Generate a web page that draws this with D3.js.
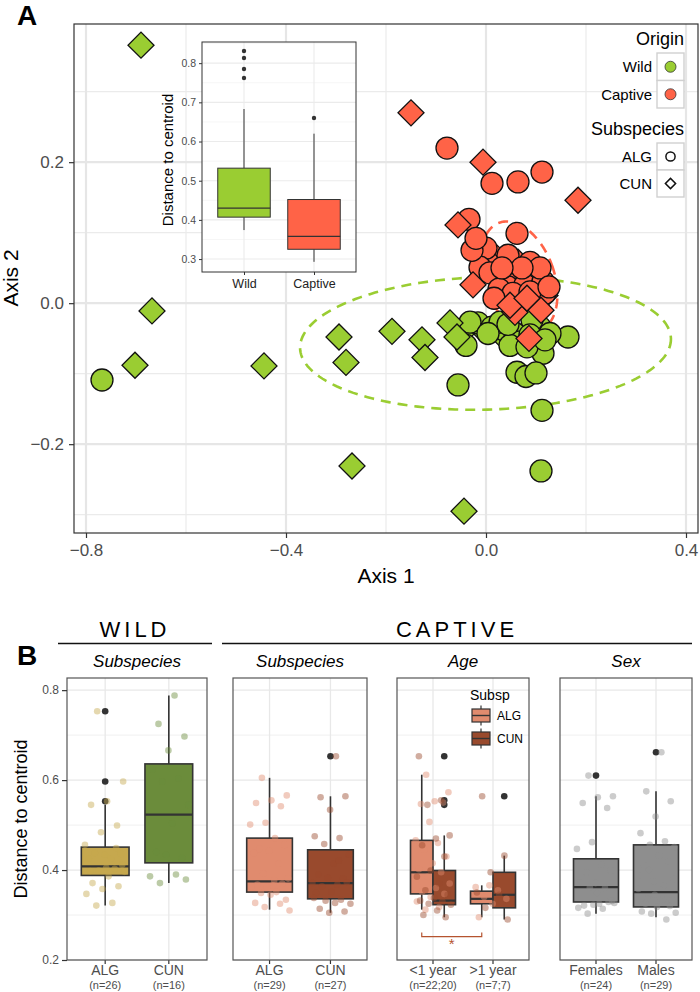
<!DOCTYPE html>
<html>
<head>
<meta charset="utf-8">
<script src="https://cdn.jsdelivr.net/npm/d3@7"></script>
<style>
  body { margin: 0; background: #fff; }
  svg text { font-family: "Liberation Sans", Arial, sans-serif; }
</style>
</head>
<body>
<div id="chart"></div>
<script>
// ---------- Panel A: ordination (Axis 1, Axis 2) ----------
const axis1Ticks = [-0.8, -0.4, 0, 0.4];
const axis2Ticks = [-0.2, 0, 0.2];

const wildALG = [[-0.768,-0.109],[-0.056,-0.116],[0.112,-0.152],[0.110,-0.238],[0.164,-0.048],
  [0.114,-0.071],[0.062,-0.098],[0.080,-0.104],[0.100,-0.099],[-0.040,-0.060],[-0.016,-0.028],
  [0.012,-0.034],[0.036,-0.038],[0.058,-0.043],[0.068,-0.055],[0.108,-0.034],[0.128,-0.043],
  [0.092,-0.024],[0.028,-0.027],[-0.032,-0.027],[0.048,-0.060],[0.082,-0.062],[0.004,-0.043],
  [0.088,-0.045],[0.118,-0.052],[0.044,-0.030]];
// last three sit inside the wild cluster
const wildCUN = [[-0.690,0.366],[-0.668,-0.011],[-0.702,-0.088],[-0.444,-0.089],[-0.294,-0.048],
  [-0.280,-0.084],[-0.188,-0.040],[-0.128,-0.052],[-0.122,-0.077],[-0.072,-0.028],[-0.058,-0.048],
  [-0.268,-0.231],[-0.044,-0.295],[-0.046,-0.041],[-0.012,-0.034],[0.038,-0.050]];
const captiveALG = [[-0.078,0.220],[0.012,0.170],[0.064,0.172],[0.112,0.186],[-0.034,0.119],
  [0.062,0.099],[-0.016,0.078],[0.000,0.078],[0.044,0.068],[-0.012,0.051],[0.008,0.043],
  [0.094,0.044],[0.062,0.035],[0.044,0.023],[0.078,0.026],[0.102,0.018],[0.114,0.031],
  [-0.028,0.075],[-0.020,0.092],[0.026,0.020],[0.088,0.058],[0.108,0.050],[0.072,0.050],
  [0.032,0.050],[0.054,0.014],[0.118,0.014],[0.016,0.007],[0.088,0.016],[0.126,0.023]];
// first nine are the visible ones, the rest hide inside the captive cluster
const captiveCUN = [[-0.150,0.270],[-0.006,0.200],[0.184,0.146],[-0.056,0.111],[-0.026,0.026],
  [0.048,-0.003],[0.082,0.007],[0.110,-0.010],[0.086,-0.050],
  [0.058,0.033],[0.088,0.026],[0.072,0.016],[0.098,0.040],[0.038,0.047],[0.064,0.058],
  [0.022,0.064],[0.108,0.018],[0.052,0.011],[0.078,0.047],[0.028,0.033],[0.104,0.004],
  [0.068,-0.003],[0.008,0.058],[0.044,0.021],[0.084,0.033],[0.118,0.011],[0.058,-0.013]];

const ellipseWild = { cx: -0.001, cy: -0.057, rx: 0.371, ry: 0.094, angle: -1.5 };
const ellipseCaptive = { cx: 0.066, cy: 0.037, rx: 0.070, ry: 0.082, angle: -20 };

// inset: distance to centroid by origin  [lower whisker, Q1, median, Q3, upper whisker]
const insetGroups = ["Wild", "Captive"];
const insetStats = [[0.374, 0.407, 0.430, 0.532, 0.683], [0.293, 0.325, 0.358, 0.452, 0.620]];
const insetOutliers = [[0.762, 0.785, 0.813, 0.831], [0.660]];
const insetTicks = [0.3, 0.4, 0.5, 0.6, 0.7, 0.8];

// ---------- Panel B: distance to centroid ----------
const distTicks = [0.2, 0.4, 0.6, 0.8];

const wildCats = ["ALG", "CUN"];
const wildN = ["(n=26)", "(n=16)"];
const wildStats = [[0.321, 0.388, 0.408, 0.451, 0.545], [0.371, 0.416, 0.523, 0.636, 0.788]];
const wildOut = [[0.553, 0.597, 0.753], []];
const wildPts = [
  [0.753,0.597,0.553,0.545,0.499,0.484,0.456,0.425,0.438,0.436,0.434,0.425,0.403,0.399,0.396,
   0.386,0.371,0.364,0.358,0.347,0.327,0.321,0.412,0.405,0.398,0.449],
  [0.788,0.725,0.697,0.666,0.623,0.603,0.597,0.545,0.504,0.440,0.427,0.434,0.386,0.390,0.371,0.379]];

const capCats = ["ALG", "CUN"];
const capN = ["(n=29)", "(n=27)"];
const capStats = [[0.312, 0.351, 0.375, 0.471, 0.605], [0.305, 0.336, 0.371, 0.445, 0.564]];
const capOut = [[], [0.653]];
const capPts = [
  [0.605,0.566,0.555,0.549,0.542,0.505,0.501,0.471,0.447,0.456,0.443,0.438,0.414,0.392,0.381,
   0.366,0.368,0.370,0.362,0.364,0.351,0.349,0.334,0.345,0.327,0.325,0.318,0.310,0.377],
  [0.653,0.562,0.564,0.534,0.475,0.471,0.458,0.434,0.414,0.390,0.381,0.383,0.371,0.368,0.364,
   0.373,0.351,0.349,0.334,0.332,0.325,0.327,0.314,0.308,0.305,0.338,0.421]];

const ageCats = ["<1 year", ">1 year"];
const ageN = ["(n=22;20)", "(n=7;7)"];
const ageSubsp = ["ALG", "CUN"];
const ageALGStats = [[0.312, 0.347, 0.395, 0.466, 0.612], [0.295, 0.325, 0.336, 0.353, 0.366]];
const ageCUNStats = [[0.295, 0.323, 0.332, 0.399, 0.477], [0.290, 0.316, 0.345, 0.395, 0.432]];
const ageALGOut = [[], []];
const ageCUNOut = [[0.545, 0.555, 0.653], [0.564]];
const ageALGPts = [
  [0.612,0.573,0.553,0.547,0.550,0.507,0.466,0.460,0.445,0.430,0.415,0.402,0.395,0.385,0.370,
   0.360,0.352,0.347,0.340,0.330,0.318,0.312],
  [0.366,0.362,0.355,0.340,0.336,0.325,0.295]];
const ageCUNPts = [
  [0.653,0.555,0.545,0.477,0.470,0.455,0.430,0.399,0.385,0.370,0.355,0.345,0.338,0.332,0.330,
   0.325,0.323,0.310,0.300,0.295],
  [0.564,0.432,0.395,0.350,0.345,0.316,0.290]];
const ageSignif = { from: 0, to: 1, subsp: 0, y: 0.252, label: "*" };

const sexCats = ["Females", "Males"];
const sexN = ["(n=24)", "(n=29)"];
const sexStats = [[0.303, 0.329, 0.362, 0.425, 0.564], [0.295, 0.318, 0.351, 0.456, 0.575]];
const sexOut = [[0.610], [0.662]];
const sexPts = [
  [0.610,0.564,0.562,0.549,0.538,0.462,0.447,0.412,0.395,0.399,0.371,0.373,0.360,0.362,0.327,
   0.325,0.321,0.329,0.323,0.316,0.314,0.303,0.331,0.349],
  [0.662,0.575,0.553,0.519,0.482,0.464,0.456,0.451,0.432,0.410,0.419,0.375,0.358,0.334,0.336,
   0.332,0.318,0.308,0.290,0.303,0.305,0.330,0.325,0.320,0.345,0.388,0.366,0.400,0.380]];

// ---------- drawing ----------
const GREEN = "#9ACD32", RED = "#FF6347";
const svg = d3.select('#chart').append('svg').attr('width', 700).attr('height', 992);

// deterministic jitter in [-1, 1]
const jit = i => ((i * 0.6180339887 + 0.31) % 1) * 2 - 1;

function boxplot(g, y, cx, w, s, fill, sw) {
  const [lo, q1, med, q3, hi] = s;
  g.append('line').attr('x1', cx).attr('x2', cx).attr('y1', y(hi)).attr('y2', y(q3))
    .attr('stroke', '#333').attr('stroke-width', sw);
  g.append('line').attr('x1', cx).attr('x2', cx).attr('y1', y(q1)).attr('y2', y(lo))
    .attr('stroke', '#333').attr('stroke-width', sw);
  g.append('rect').attr('x', cx - w / 2).attr('y', y(q3)).attr('width', w).attr('height', y(q1) - y(q3))
    .attr('fill', fill).attr('stroke', '#333').attr('stroke-width', sw);
  g.append('line').attr('x1', cx - w / 2).attr('x2', cx + w / 2).attr('y1', y(med)).attr('y2', y(med))
    .attr('stroke', '#333').attr('stroke-width', sw * 1.4);
}

// ===== Panel A =====
const xA = d3.scaleLinear().domain([-0.824, 0.424]).range([74, 698]);
const yA = d3.scaleLinear().domain([-0.326, 0.396]).range([533, 24]);
const gA = svg.append('g');

const minorX = axis1Ticks.slice(1).map((d, i) => (d + axis1Ticks[i]) / 2);
const minorY = [-0.3, -0.1, 0.1, 0.3];
minorX.forEach(v => gA.append('line').attr('x1', xA(v)).attr('x2', xA(v)).attr('y1', 24).attr('y2', 533)
  .attr('stroke', '#ebebeb').attr('stroke-width', 1.2));
minorY.forEach(v => gA.append('line').attr('y1', yA(v)).attr('y2', yA(v)).attr('x1', 74).attr('x2', 698)
  .attr('stroke', '#ebebeb').attr('stroke-width', 1.2));
axis1Ticks.forEach(v => gA.append('line').attr('x1', xA(v)).attr('x2', xA(v)).attr('y1', 24).attr('y2', 533)
  .attr('stroke', '#e6e6e6').attr('stroke-width', 2.2));
axis2Ticks.forEach(v => gA.append('line').attr('y1', yA(v)).attr('y2', yA(v)).attr('x1', 74).attr('x2', 698)
  .attr('stroke', '#e6e6e6').attr('stroke-width', 2.2));

// ellipses (under the points)
function ellipsePath(e) {
  const cx = xA(e.cx), cy = yA(e.cy);
  const a = xA(e.cx + e.rx) - cx, b = yA(e.cy) - yA(e.cy + e.ry);
  const th = e.angle * Math.PI / 180;
  const pts = d3.range(0, 362, 2).map(t => {
    const r = t * Math.PI / 180, ex = a * Math.cos(r), ey = b * Math.sin(r);
    return [cx + ex * Math.cos(th) - ey * Math.sin(th), cy + ex * Math.sin(th) + ey * Math.cos(th)];
  });
  return d3.line()(pts);
}
gA.append('path').attr('d', ellipsePath(ellipseWild)).attr('fill', 'none')
  .attr('stroke', GREEN).attr('stroke-width', 2.6).attr('stroke-dasharray', '10,7');
gA.append('path').attr('d', ellipsePath(ellipseCaptive)).attr('fill', 'none')
  .attr('stroke', RED).attr('stroke-width', 2.6).attr('stroke-dasharray', '10,7');

const diamond = d3.symbol(d3.symbolSquare, 338)();
function drawCircles(data, fill) {
  gA.append('g').selectAll('circle').data(data).join('circle')
    .attr('cx', d => xA(d[0])).attr('cy', d => yA(d[1])).attr('r', 11)
    .attr('fill', fill).attr('stroke', '#111').attr('stroke-width', 1.3);
}
function drawDiamonds(data, fill) {
  gA.append('g').selectAll('path').data(data).join('path')
    .attr('d', diamond)
    .attr('transform', d => `translate(${xA(d[0])},${yA(d[1])}) rotate(45)`)
    .attr('fill', fill).attr('stroke', '#111').attr('stroke-width', 1.3);
}
drawDiamonds(wildCUN.slice(13), GREEN);
drawCircles(wildALG, GREEN);
drawDiamonds(wildCUN.slice(0, 13), GREEN);
drawDiamonds(captiveCUN.slice(9), RED);
drawCircles(captiveALG, RED);
drawDiamonds(captiveCUN.slice(0, 9), RED);

gA.append('rect').attr('x', 74).attr('y', 24).attr('width', 624).attr('height', 509)
  .attr('fill', 'none').attr('stroke', '#333').attr('stroke-width', 1.2);

const axAy = gA.append('g').attr('transform', 'translate(74,0)')
  .call(d3.axisLeft(yA).tickValues(axis2Ticks).tickSize(5).tickPadding(5).tickFormat(d3.format('.1f')));
const axAx = gA.append('g').attr('transform', 'translate(0,533)')
  .call(d3.axisBottom(xA).tickValues(axis1Ticks).tickSize(5).tickPadding(6).tickFormat(d3.format('.1f')));
[axAy, axAx].forEach(ax => {
  ax.select('.domain').remove();
  ax.selectAll('line').attr('stroke', '#333').attr('stroke-width', 1.2);
  ax.selectAll('text').attr('font-size', 17).attr('fill', '#4d4d4d')
    .attr('font-family', '"Liberation Sans", Arial, sans-serif');
});

svg.append('text').attr('x', 386).attr('y', 583).attr('text-anchor', 'middle')
  .attr('font-size', 21).text('Axis 1');
svg.append('text').attr('transform', 'translate(18,278) rotate(-90)').attr('text-anchor', 'middle')
  .attr('font-size', 21).text('Axis 2');
svg.append('text').attr('x', 17).attr('y', 25).attr('font-size', 28).attr('font-weight', 'bold').text('A');

// legend A
const lg = svg.append('g');
lg.append('text').attr('x', 684).attr('y', 45).attr('text-anchor', 'end').attr('font-size', 18).text('Origin');
[['Wild', GREEN], ['Captive', RED]].forEach(([lab, col], i) => {
  const y0 = 53 + i * 27.5;
  lg.append('rect').attr('x', 657).attr('y', y0).attr('width', 27).attr('height', 27.5)
    .attr('fill', '#fff').attr('stroke', '#d0d0d0').attr('stroke-width', 1.4);
  lg.append('circle').attr('cx', 670.5).attr('cy', y0 + 13.75).attr('r', 5.5)
    .attr('fill', col).attr('stroke', '#333').attr('stroke-width', 0.8);
  lg.append('text').attr('x', 652).attr('y', y0 + 19).attr('text-anchor', 'end').attr('font-size', 15).text(lab);
});
lg.append('text').attr('x', 684).attr('y', 135).attr('text-anchor', 'end').attr('font-size', 18).text('Subspecies');
['ALG', 'CUN'].forEach((lab, i) => {
  const y0 = 143 + i * 27;
  lg.append('rect').attr('x', 657).attr('y', y0).attr('width', 27).attr('height', 27)
    .attr('fill', '#fff').attr('stroke', '#d0d0d0').attr('stroke-width', 1.4);
  if (i === 0) {
    lg.append('circle').attr('cx', 670.5).attr('cy', y0 + 13.5).attr('r', 4.6)
      .attr('fill', 'none').attr('stroke', '#111').attr('stroke-width', 1.5);
  } else {
    lg.append('path').attr('d', d3.symbol(d3.symbolSquare, 52)())
      .attr('transform', `translate(670.5,${y0 + 13.5}) rotate(45)`)
      .attr('fill', 'none').attr('stroke', '#111').attr('stroke-width', 1.5);
  }
  lg.append('text').attr('x', 652).attr('y', y0 + 19).attr('text-anchor', 'end').attr('font-size', 15).text(lab);
});

// inset
const xI = d3.scalePoint().domain(insetGroups).range([202, 356]).padding(0.6);
const yI = d3.scaleLinear().domain([0.267, 0.854]).range([272, 42]);
const gI = svg.append('g');
gI.append('rect').attr('x', 202).attr('y', 42).attr('width', 154).attr('height', 230).attr('fill', '#fff');
insetTicks.forEach(v => {
  gI.append('line').attr('x1', 202).attr('x2', 356).attr('y1', yI(v)).attr('y2', yI(v))
    .attr('stroke', '#ebebeb').attr('stroke-width', 1.1);
  gI.append('line').attr('x1', 202).attr('x2', 356).attr('y1', yI(v + 0.05)).attr('y2', yI(v + 0.05))
    .attr('stroke', '#f2f2f2').attr('stroke-width', 0.7);
});
insetGroups.forEach(g => gI.append('line').attr('x1', xI(g)).attr('x2', xI(g)).attr('y1', 42).attr('y2', 272)
  .attr('stroke', '#ebebeb').attr('stroke-width', 1.1));
insetGroups.forEach((g, i) => {
  boxplot(gI, yI, xI(g), 0.75 * xI.step(), insetStats[i], i === 0 ? GREEN : RED, 1);
  insetOutliers[i].forEach(v => gI.append('circle').attr('cx', xI(g)).attr('cy', yI(v)).attr('r', 2.2).attr('fill', '#333'));
});
gI.append('rect').attr('x', 202).attr('y', 42).attr('width', 154).attr('height', 230)
  .attr('fill', 'none').attr('stroke', '#333').attr('stroke-width', 1);
const axIy = gI.append('g').attr('transform', 'translate(202,0)')
  .call(d3.axisLeft(yI).tickValues(insetTicks).tickSize(3).tickPadding(3).tickFormat(d3.format('.1f')));
const axIx = gI.append('g').attr('transform', 'translate(0,272)')
  .call(d3.axisBottom(xI).tickSize(3).tickPadding(4));
[axIy, axIx].forEach(ax => {
  ax.select('.domain').remove();
  ax.selectAll('line').attr('stroke', '#333');
  ax.selectAll('text').attr('font-family', '"DejaVu Sans", sans-serif').attr('fill', '#4d4d4d');
});
axIy.selectAll('text').attr('font-size', 10.5);
axIx.selectAll('text').attr('font-size', 12.5).attr('fill', '#222');
gI.append('text').attr('transform', 'translate(173,160) rotate(-90)').attr('text-anchor', 'middle')
  .attr('font-family', '"DejaVu Sans", sans-serif').attr('font-size', 15).text('Distance to centroid');

// ===== Panel B =====
const yB = d3.scaleLinear().domain([0.2, 0.827]).range([960, 678]);
const B_TOP = 678, B_BOT = 960;
const gB = svg.append('g');

svg.append('text').attr('x', 17).attr('y', 665).attr('font-size', 28).attr('font-weight', 'bold').text('B');
const serif = '"Liberation Serif", "DejaVu Serif", serif';
[['WILD', 58, 212], ['CAPTIVE', 222, 692]].forEach(([lab, a, b]) => {
  gB.append('text').attr('x', (a + b) / 2).attr('y', 637).attr('text-anchor', 'middle')
    .attr('font-family', serif).attr('font-size', 22).attr('letter-spacing', 4).text(lab);
  gB.append('line').attr('x1', a).attr('x2', b).attr('y1', 643.5).attr('y2', 643.5)
    .attr('stroke', '#111').attr('stroke-width', 1.3);
});

const panels = [
  { x0: 67, x1: 207, title: 'Subspecies', cats: wildCats, ns: wildN },
  { x0: 233, x1: 367, title: 'Subspecies', cats: capCats, ns: capN },
  { x0: 397, x1: 529, title: 'Age', cats: ageCats, ns: ageN },
  { x0: 560, x1: 692, title: 'Sex', cats: sexCats, ns: sexN }
];
panels.forEach(p => {
  p.x = d3.scalePoint().domain(p.cats).range([p.x0, p.x1]).padding(0.6);
  const g = gB.append('g');
  p.g = g;
  [0.3, 0.5, 0.7].forEach(v => g.append('line').attr('x1', p.x0).attr('x2', p.x1).attr('y1', yB(v)).attr('y2', yB(v))
    .attr('stroke', '#f0f0f0').attr('stroke-width', 1));
  distTicks.forEach(v => g.append('line').attr('x1', p.x0).attr('x2', p.x1).attr('y1', yB(v)).attr('y2', yB(v))
    .attr('stroke', '#e8e8e8').attr('stroke-width', 1.3));
  p.cats.forEach(c => g.append('line').attr('x1', p.x(c)).attr('x2', p.x(c)).attr('y1', B_TOP).attr('y2', B_BOT)
    .attr('stroke', '#e8e8e8').attr('stroke-width', 1.3));
  gB.append('text').attr('x', (p.x0 + p.x1) / 2).attr('y', 667).attr('text-anchor', 'middle')
    .attr('font-size', 17).attr('font-style', 'italic').text(p.title);
  p.cats.forEach((c, i) => {
    gB.append('line').attr('x1', p.x(c)).attr('x2', p.x(c)).attr('y1', B_BOT).attr('y2', B_BOT + 4)
      .attr('stroke', '#333').attr('stroke-width', 1.2);
    gB.append('text').attr('x', p.x(c)).attr('y', 975).attr('text-anchor', 'middle')
      .attr('font-size', 14).attr('fill', '#4d4d4d').text(c);
    gB.append('text').attr('x', p.x(c)).attr('y', 989).attr('text-anchor', 'middle')
      .attr('font-size', 11).attr('fill', '#4d4d4d').text(p.ns[i]);
  });
});

function simplePanel(p, stats, outs, pts, fills) {
  p.cats.forEach((c, i) => {
    boxplot(p.g, yB, p.x(c), 0.75 * p.x.step(), stats[i], fills[i], 1.6);
    outs[i].forEach(v => p.g.append('circle').attr('cx', p.x(c)).attr('cy', yB(v)).attr('r', 3.3).attr('fill', '#333'));
  });
  p.cats.forEach((c, i) => {
    p.g.append('g').selectAll('circle').data(pts[i]).join('circle')
      .attr('cx', (d, k) => p.x(c) + jit(k + i * 7) * 0.33 * p.x.step())
      .attr('cy', d => yB(d)).attr('r', 3.3).attr('fill', fills[i]).attr('opacity', 0.45);
  });
}
const WALG = '#C6A84E', WCUN = '#6B8C3B', CALG = '#E08B6E', CCUN = '#994A2D', SEX = '#8E8E8E';
simplePanel(panels[0], wildStats, wildOut, wildPts, [WALG, WCUN]);
simplePanel(panels[1], capStats, capOut, capPts, [CALG, CCUN]);
simplePanel(panels[3], sexStats, sexOut, sexPts, [SEX, SEX]);

// Age panel: dodged boxes by subspecies
{
  const p = panels[2], step = p.x.step(), bw = 0.375 * step;
  const dodge = [-0.1875 * step, 0.1875 * step];
  const stats = [ageALGStats, ageCUNStats], outs = [ageALGOut, ageCUNOut], pts = [ageALGPts, ageCUNPts];
  const fills = [CALG, CCUN];
  p.cats.forEach((c, i) => {
    ageSubsp.forEach((s, j) => {
      boxplot(p.g, yB, p.x(c) + dodge[j], bw, stats[j][i], fills[j], 1.6);
      outs[j][i].forEach(v => p.g.append('circle').attr('cx', p.x(c) + dodge[j]).attr('cy', yB(v))
        .attr('r', 3.3).attr('fill', '#333'));
    });
  });
  p.cats.forEach((c, i) => {
    ageSubsp.forEach((s, j) => {
      p.g.append('g').selectAll('circle').data(pts[j][i]).join('circle')
        .attr('cx', (d, k) => p.x(c) + jit(k + j * 11 + i * 5) * 0.3 * step)
        .attr('cy', d => yB(d)).attr('r', 3.3).attr('fill', fills[j]).attr('opacity', 0.45);
    });
  });
  // significance bracket
  const bx0 = p.x(p.cats[ageSignif.from]) + dodge[ageSignif.subsp];
  const bx1 = p.x(p.cats[ageSignif.to]) + dodge[ageSignif.subsp];
  const by = yB(ageSignif.y);
  p.g.append('path').attr('d', `M${bx0},${by - 4}V${by}H${bx1}V${by - 4}`)
    .attr('fill', 'none').attr('stroke', '#B5532F').attr('stroke-width', 1.2);
  p.g.append('text').attr('x', (bx0 + bx1) / 2).attr('y', by + 12).attr('text-anchor', 'middle')
    .attr('font-size', 15).attr('fill', '#B5532F').text(ageSignif.label);
  // legend
  p.g.append('text').attr('x', 470).attr('y', 700).attr('font-size', 14).text('Subsp');
  ageSubsp.forEach((s, j) => {
    const cy = 715.5 + j * 23;
    p.g.append('line').attr('x1', 481).attr('x2', 481).attr('y1', cy - 10).attr('y2', cy + 10)
      .attr('stroke', '#333').attr('stroke-width', 1.2);
    p.g.append('rect').attr('x', 472).attr('y', cy - 6.5).attr('width', 18).attr('height', 13)
      .attr('fill', fills[j]).attr('stroke', '#333').attr('stroke-width', 1.2);
    p.g.append('line').attr('x1', 472).attr('x2', 490).attr('y1', cy).attr('y2', cy)
      .attr('stroke', '#333').attr('stroke-width', 1.4);
    p.g.append('text').attr('x', 497).attr('y', cy + 4.5).attr('font-size', 12).text(s);
  });
}

// panel borders
panels.forEach(p => gB.append('rect').attr('x', p.x0).attr('y', B_TOP).attr('width', p.x1 - p.x0)
  .attr('height', B_BOT - B_TOP).attr('fill', 'none').attr('stroke', '#555').attr('stroke-width', 1.2));

// y axis for first panel only
const axB = gB.append('g').attr('transform', `translate(${panels[0].x0},0)`)
  .call(d3.axisLeft(yB).tickValues(distTicks).tickSize(5).tickPadding(3).tickFormat(d3.format('.1f')));
axB.select('.domain').remove();
axB.selectAll('line').attr('stroke', '#333').attr('stroke-width', 1.2);
axB.selectAll('text').attr('font-size', 12).attr('fill', '#4d4d4d')
  .attr('font-family', '"Liberation Sans", Arial, sans-serif');
svg.append('text').attr('transform', `translate(27,${(B_TOP + B_BOT) / 2}) rotate(-90)`)
  .attr('text-anchor', 'middle').attr('font-size', 18).text('Distance to centroid');
</script>
</body>
</html>
